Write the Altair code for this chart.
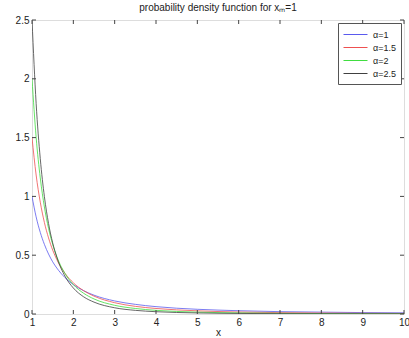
import altair as alt
import pandas as pd

x_vals = [1, 1.1, 1.2, 1.3, 1.4, 1.5, 1.6, 1.8, 2, 2.25, 2.5, 3, 3.5, 4, 5, 6, 7, 8, 9, 10]
a1 = [1.0, 0.826, 0.694, 0.592, 0.510, 0.444, 0.391, 0.309, 0.25, 0.198, 0.16, 0.111, 0.082, 0.0625, 0.04, 0.028, 0.020, 0.016, 0.012, 0.010]
a15 = [1.5, 1.182, 0.951, 0.778, 0.647, 0.544, 0.463, 0.345, 0.265, 0.198, 0.152, 0.096, 0.065, 0.047, 0.027, 0.017, 0.0116, 0.0083, 0.0062, 0.0047]
a2 = [2.0, 1.503, 1.157, 0.910, 0.729, 0.593, 0.488, 0.343, 0.25, 0.176, 0.128, 0.074, 0.047, 0.031, 0.016, 0.0093, 0.0058, 0.0039, 0.0027, 0.002]
a25 = [2.5, 1.791, 1.321, 0.998, 0.770, 0.605, 0.483, 0.320, 0.221, 0.146, 0.101, 0.053, 0.031, 0.0195, 0.0089, 0.0047, 0.0028, 0.0017, 0.0011, 0.0008]
series_names = ["α=1", "α=1.5", "α=2", "α=2.5"]
series_colors = ["#5a5aee", "#ee5050", "#40dd40", "#404040"]
x_ticks = [1, 2, 3, 4, 5, 6, 7, 8, 9, 10]
y_ticks = [0, 0.5, 1, 1.5, 2, 2.5]

rows = []
for name, ys in zip(series_names, [a1, a15, a2, a25]):
    for i, (xv, yv) in enumerate(zip(x_vals, ys)):
        rows.append({"x": xv, "y": yv, "s": name, "o": i})
df = pd.DataFrame(rows)

W, H = 372, 294
FONT = "Liberation Sans"
xs = alt.Scale(domain=[1, 10], nice=False, zero=False)
ys_ = alt.Scale(domain=[0, 2.5], nice=False)

lines = alt.Chart(df).mark_line(strokeWidth=0.8, interpolate="monotone", clip=True).encode(
    x=alt.X("x:Q", scale=xs, title="x",
            axis=alt.Axis(values=x_ticks, ticks=False, domain=False, grid=False,
                          labelExpr="datum.value + ''",
                          labelFontSize=10, labelFont=FONT, labelPadding=3, labelColor="#222",
                          titleFont=FONT, titleFontSize=10, titleFontWeight="normal",
                          titlePadding=0, titleColor="#222", labelFlush=False)),
    y=alt.Y("y:Q", scale=ys_, title=None,
            axis=alt.Axis(values=y_ticks, ticks=False, domain=False, grid=False,
                          labelExpr="datum.value + ''",
                          labelFontSize=10, labelFont=FONT, labelPadding=3, labelColor="#222",
                          labelFlush=False)),
    color=alt.Color("s:N", scale=alt.Scale(domain=series_names, range=series_colors),
                    legend=alt.Legend(title=None, orient="top-right", offset=3,
                                      symbolType="M-2,0L2,0", symbolSize=144, symbolStrokeWidth=1,
                                      symbolOffset=6,
                                      labelFont=FONT, labelFontSize=9, labelColor="#222",
                                      strokeColor="#555", fillColor="white", padding=5,
                                      rowPadding=1, cornerRadius=0, labelOffset=11)),
    order="o:Q",
)

xt = pd.DataFrame({"t": x_ticks})
yt = pd.DataFrame({"t": y_ticks})
tick_style = dict(color="#444", strokeWidth=1)
xb = alt.Chart(xt).mark_rule(**tick_style).encode(x=alt.X("t:Q", scale=xs), y=alt.value(H), y2=alt.value(H - 4))
xtop = alt.Chart(xt).mark_rule(**tick_style).encode(x=alt.X("t:Q", scale=xs), y=alt.value(0), y2=alt.value(4))
yl = alt.Chart(yt).mark_rule(**tick_style).encode(y=alt.Y("t:Q", scale=ys_), x=alt.value(0), x2=alt.value(4))
yr = alt.Chart(yt).mark_rule(**tick_style).encode(y=alt.Y("t:Q", scale=ys_), x=alt.value(W), x2=alt.value(W - 4))

chart = alt.layer(lines, xb, xtop, yl, yr).properties(
    width=W, height=H,
    title=alt.TitleParams("probability density function for xₘ=1", font=FONT, fontSize=10,
                          fontWeight="normal", color="#222", anchor="middle", offset=2),
    autosize=alt.AutoSizeParams(type="none"),
    padding={"left": 32, "top": 20, "right": 5, "bottom": 24},
).configure_view(stroke="#444", strokeWidth=1).configure(background="white")

chart.save("out.html", embed_options={"renderer": "svg", "actions": False})
